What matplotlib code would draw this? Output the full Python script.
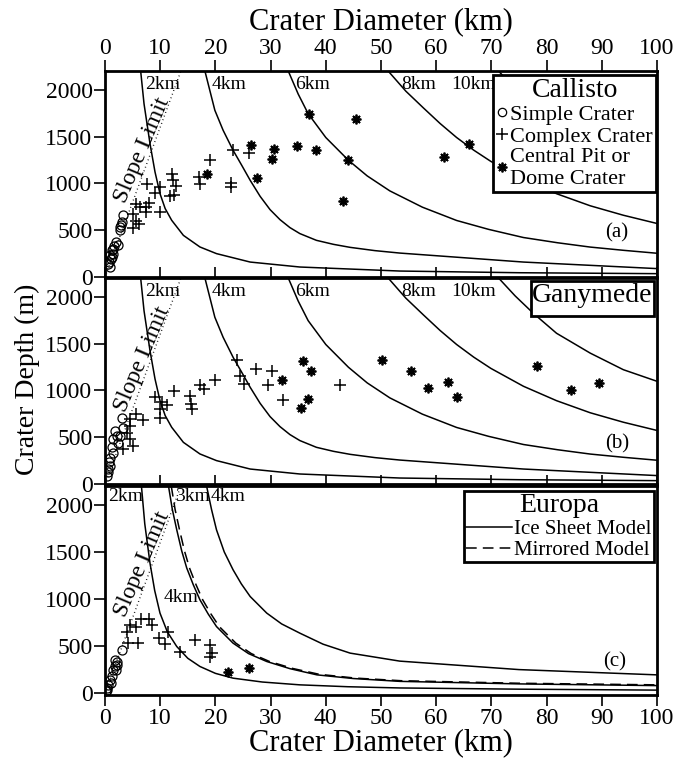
import numpy as np
import matplotlib.pyplot as plt
from matplotlib.lines import Line2D

plt.rcParams['font.family'] = 'Liberation Serif'

# ---- Callisto data (a) ----
cal_simple_D = [0.6, 0.8, 0.9, 1.0, 0.9, 1.3, 1.5, 1.6, 2.0, 2.4, 2.7, 2.8, 3.1, 3.2, 2.9, 1.2, 1.4]
cal_simple_d = [142, 160, 232, 196, 107, 285, 250, 328, 374, 340, 499, 534, 588, 659, 560, 215, 300]
cal_complex_D = [5.0, 5.6, 6.2, 5.0, 5.6, 6.3, 7.5, 8.0, 7.4, 10.0, 7.6, 10.0, 9.1, 12.1, 12.3,
                 12.9, 11.7, 12.5, 17.1, 17.2, 19.1, 23.1, 22.8, 22.9, 26.0]
cal_complex_d = [528, 598, 563, 670, 784, 748, 748, 791, 694, 694, 990, 962, 897, 1105, 1033,
                 969, 862, 873, 1068, 998, 1254, 1354, 1004, 962, 1325]
cal_pit_D = [18.5, 26.4, 27.6, 30.3, 30.6, 34.7, 38.2, 36.9, 45.4, 44.0, 43.2, 66.0, 61.5]
cal_pit_d = [1100, 1414, 1062, 1261, 1372, 1404, 1361, 1746, 1688, 1247, 809, 1425, 1282]

# ---- Ganymede data (b) ----
gan_simple_D = [3.0, 1.8, 1.5, 2.1, 1.2, 1.5, 0.9, 0.8, 0.6, 0.4, 0.6, 3.3, 2.8, 0.9, 2.4]
gan_simple_d = [707, 566, 478, 513, 390, 336, 283, 230, 159, 88, 124, 601, 513, 194, 440]
gan_complex_D = [23.9, 27.4, 30.3, 24.5, 25.1, 29.6, 42.6, 32.3, 19.9, 17.2, 17.9, 12.5, 9.1,
                 15.4, 10.3, 11.2, 15.5, 15.7, 10.0, 10.0, 5.7, 6.8, 4.5, 4.5, 3.9, 4.5, 5.1, 3.3]
gan_complex_d = [1328, 1228, 1203, 1150, 1073, 1062, 1062, 895, 1108, 1062, 1015, 991, 931,
                 945, 874, 839, 850, 803, 797, 707, 743, 683, 690, 619, 548, 478, 407, 372]
gan_pit_D = [35.9, 37.3, 32.0, 36.8, 35.5, 50.1, 55.4, 58.5, 62.2, 63.7, 78.2, 84.5, 89.5]
gan_pit_d = [1317, 1203, 1108, 913, 807, 1328, 1211, 1026, 1087, 931, 1257, 1002, 1079]

# ---- Europa data (c) ----
eur_simple_D = [3.0, 1.8, 2.1, 1.5, 1.2, 0.9, 0.6, 0.3, 0.1, 2.2, 2.0, 1.8, 1.0, 0.4]
eur_simple_d = [460, 354, 302, 248, 177, 141, 89, 53, 18, 330, 248, 283, 110, 30]
eur_complex_D = [3.9, 4.5, 5.6, 6.6, 7.9, 8.5, 4.2, 6.0, 9.8, 10.8, 11.5, 13.5, 16.3, 19.0, 19.3, 19.1]
eur_complex_d = [654, 725, 707, 786, 786, 725, 531, 531, 584, 524, 654, 435, 559, 513, 431, 389]
eur_pit_D = [22.3, 26.1]
eur_pit_d = [229, 265]

# ---- model curves, Callisto / Ganymede (depth vs diameter, per layer thickness) ----
cg_curves = {
    '2km': ([6.46, 7.07, 8.15, 9.06, 9.96, 10.9, 12.08, 14.2, 17.2, 20.2, 26.3, 35.3, 53.4, 75.0, 100.0],
            [2200, 1850, 1425, 1122, 891, 731, 606, 445, 321, 250, 160, 107, 64, 46, 36]),
    '4km': ([18.1, 19.9, 21.4, 23.2, 24.8, 26.3, 28.1, 29.9, 31.7, 33.5, 35.3, 38.3, 41.4, 44.4,
             48.9, 53.4, 75.8, 100.0],
            [2200, 1781, 1567, 1354, 1190, 1033, 862, 720, 613, 528, 464, 392, 349, 317,
             282, 256, 160, 90]),
    '6km': ([33.2, 35.0, 36.8, 40.0, 44.1, 47.5, 51.6, 57.5, 63.7, 69.5, 75.8, 82.0, 87.9, 94.0, 100.0],
            [2200, 1954, 1745, 1490, 1247, 1080, 920, 746, 604, 509, 422, 366, 320, 285, 254]),
    '8km': ([51.3, 54.5, 57.7, 60.7, 63.7, 66.8, 69.9, 75.8, 81.8, 87.9, 93.9, 100.0],
            [2200, 1985, 1805, 1640, 1490, 1355, 1235, 1044, 890, 761, 660, 572]),
    '10km': ([71.3, 74.3, 77.6, 81.8, 87.9, 93.9, 100.0],
             [2200, 2009, 1823, 1610, 1398, 1221, 1097]),
}
cg_label_D = {'2km': 7.3, '4km': 19.3, '6km': 34.4, '8km': 53.7, '10km': 62.8}

# ---- model curves, Europa ----
eu_ice = {
    '2km': ([6.6, 7.2, 8.15, 9.0, 9.96, 11.3, 13.0, 15.0, 17.2, 20.0, 23.2, 28.5, 35.3, 44.0,
             53.4, 75.0, 100.0],
            [2200, 1800, 1381, 1090, 850, 650, 495, 370, 283, 210, 159, 118, 88, 68,
             55, 42, 32]),
    '3km': ([11.5, 12.2, 13.0, 13.9, 14.8, 16.0, 17.2, 18.7, 20.2, 23.2, 26.0, 29.3, 33.5, 38.4,
             45.0, 53.4, 75.0, 100.0],
            [2200, 1950, 1734, 1510, 1330, 1150, 991, 840, 707, 531, 420, 336, 260, 194,
             155, 125, 98, 80]),
    '4km': ([18.4, 19.3, 20.2, 21.6, 23.2, 24.7, 26.3, 29.3, 32.0, 35.3, 39.5, 44.4, 53.4, 75.0, 100.0],
            [2200, 1950, 1734, 1500, 1310, 1160, 1026, 850, 735, 637, 520, 425, 340, 250, 194]),
}
eu_mirror_D = [12.0, 12.7, 13.5, 14.4, 15.3, 16.5, 17.7, 19.2, 20.7, 23.7, 26.5, 29.8, 34.0, 38.8,
               45.3, 53.6, 75.0, 100.0]
eu_mirror_d = [2200, 1950, 1734, 1510, 1330, 1150, 991, 840, 707, 531, 420, 336, 262, 200,
               160, 132, 105, 88]

slope_D = [0, 13.75]
slope_d = [0, 2200]

fig = plt.figure(figsize=(6.94, 7.59), dpi=100)
ax1 = fig.add_axes([0.1513, 0.635, 0.7954, 0.2714])
ax2 = fig.add_axes([0.1513, 0.3623, 0.7954, 0.2714])
ax3 = fig.add_axes([0.1513, 0.0843, 0.7954, 0.2754])

mk = dict(color='black', linestyle='none')
for ax, s, c, p in [(ax1, (cal_simple_D, cal_simple_d), (cal_complex_D, cal_complex_d), (cal_pit_D, cal_pit_d)),
                    (ax2, (gan_simple_D, gan_simple_d), (gan_complex_D, gan_complex_d), (gan_pit_D, gan_pit_d)),
                    (ax3, (eur_simple_D, eur_simple_d), (eur_complex_D, eur_complex_d), (eur_pit_D, eur_pit_d))]:
    ax.plot(*s, marker='o', ms=6.5, mfc='none', mew=0.9, **mk)
    ax.plot(*c, marker='+', ms=8, mew=1.1, **mk)
    ax.plot(*p, marker=(8, 2, 0), ms=7, mew=1.3, **mk)
    ax.plot(slope_D, slope_d, color='black', lw=1.0, linestyle=(0, (0.6, 2.2)))
    ax.set_xlim(0, 100)
    ax.set_xticks(np.arange(0, 101, 10))
    ax.set_yticks([0, 500, 1000, 1500, 2000])
    for sp in ax.spines.values():
        sp.set_linewidth(2)
    ax.tick_params(direction='out', length=8, width=1.2, labelsize=17, pad=1,
                   top=True, bottom=False, labelbottom=False, right=False)

for ax in [ax1, ax2]:
    for name, (D, d) in cg_curves.items():
        ax.plot(D, d, color='black', lw=1.1)
        ax.text(cg_label_D[name], 2060, name, fontsize=14, va='center', ha='left')
    ax.set_ylim(0, 2200)

for name, (D, d) in eu_ice.items():
    ax3.plot(D, d, color='black', lw=1.1)
ax3.plot(eu_mirror_D, eu_mirror_d, color='black', lw=1.1, linestyle=(0, (7, 4)))
ax3.set_ylim(-20, 2200)
ax3.text(0.6, 2090, '2km', fontsize=14, va='center', ha='left')
ax3.text(12.7, 2090, '3km', fontsize=14, va='center', ha='left')
ax3.text(19.2, 2090, '4km', fontsize=14, va='center', ha='left')
ax3.text(10.6, 1020, '4km', fontsize=14, va='center', ha='left')

for ax, d in [(ax1, 1354), (ax2, 1336), (ax3, 1373)]:
    ax.text(6.8, d, 'Slope Limit', fontsize=17, rotation=67, ha='center', va='center')

ax1.text(92.7, 467, '(a)', fontsize=15, ha='center', va='center')
ax2.text(92.7, 425, '(b)', fontsize=15, ha='center', va='center')
ax3.text(92.4, 336, '(c)', fontsize=15, ha='center', va='center')

# x labels
ax1.tick_params(labeltop=True)
ax1.xaxis.set_label_position('top')
ax1.set_xlabel('Crater Diameter (km)', fontsize=22, labelpad=6)
ax3.tick_params(bottom=True, labelbottom=True)
ax3.set_xlabel('Crater Diameter (km)', fontsize=22, labelpad=0)
fig.text(0.04, 0.5, 'Crater Depth (m)', fontsize=20, rotation=90, ha='center', va='center')

# legends
h_a = [Line2D([], [], marker='o', ms=6, mfc='none', mew=0.9, **mk),
       Line2D([], [], marker='+', ms=8, mew=1.1, **mk),
       Line2D([], [], marker=(8, 2, 0), ms=7, mew=1.3, **mk)]
leg = ax1.legend(h_a, ['Simple Crater', 'Complex Crater', 'Central Pit or\nDome Crater'],
                 title='Callisto', title_fontsize=20, fontsize=16, loc='upper right',
                 bbox_to_anchor=(0.998, 0.982), handlelength=0.5, handletextpad=0.1,
                 labelspacing=0.05, borderpad=0.15, borderaxespad=0, fancybox=False,
                 framealpha=1, edgecolor='black')
leg.get_frame().set_linewidth(2)
leg._legend_box.sep = 1

leg = ax2.legend([], [], title='Ganymede', title_fontsize=20, loc='upper right',
                 bbox_to_anchor=(0.995, 0.985), borderpad=0.1, borderaxespad=0,
                 fancybox=False, framealpha=1, edgecolor='black')
leg.get_frame().set_linewidth(2)

h_c = [Line2D([], [], color='black', lw=1.1),
       Line2D([], [], color='black', lw=1.1, linestyle=(0, (7, 4)))]
leg = ax3.legend(h_c, ['Ice Sheet Model', 'Mirrored Model'], title='Europa', title_fontsize=20,
                 fontsize=15, loc='upper right', bbox_to_anchor=(0.994, 0.975),
                 handlelength=2.2, handletextpad=0.1, labelspacing=0.05, borderpad=0.1,
                 borderaxespad=0, fancybox=False, framealpha=1, edgecolor='black')
leg.get_frame().set_linewidth(2)
leg._legend_box.sep = 1

fig.savefig('out.png', dpi=100)
